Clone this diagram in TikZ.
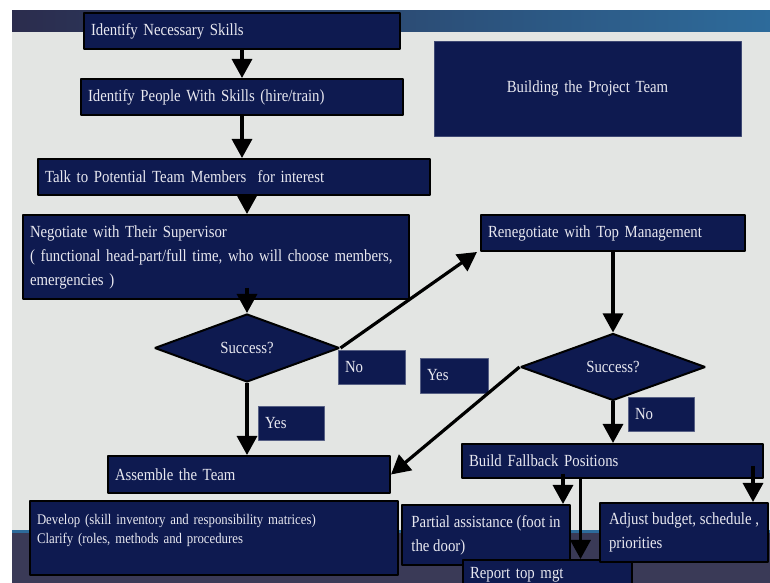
\documentclass[tikz,border=0pt]{standalone}
\usepackage{fontspec}
\setmainfont{Liberation Serif}[FakeStretch=0.87]
\usetikzlibrary{shapes.geometric,arrows.meta}
\definecolor{boxblue}{HTML}{0E1A50}
\definecolor{boxtext}{HTML}{E8E8F0}
\definecolor{slidegray}{HTML}{E3E5E3}
\definecolor{bandleft}{HTML}{2B2C4D}
\definecolor{bandright}{HTML}{2D6B9B}
\definecolor{bottomslate}{HTML}{3A3A57}
\begin{document}
\begin{tikzpicture}[>={Triangle[width=20bp,length=19bp]},line join=bevel,
  box/.style={draw=black,line width=2bp,fill=boxblue,text=boxtext,align=left,
    inner xsep=7bp,inner ysep=0bp,font=\fontsize{17bp}{24bp}\selectfont},
  tag/.style={box,draw=boxblue!70!white,line width=0.6bp},
  decision/.style={diamond,draw=black,line width=2bp,fill=boxblue,text=boxtext,
    inner sep=0bp,aspect=2.7,font=\fontsize{17bp}{24bp}\selectfont},
  flow/.style={black,line width=3.2bp,->}]
\useasboundingbox (0bp,0bp) rectangle (770bp,583bp);
%% slide background
\fill [slidegray] (12bp,53bp) rectangle (770bp,551bp);
\shade [left color=bandleft,right color=bandright] (12bp,551bp) rectangle (770bp,572bp);
\fill [bottomslate] (12bp,0bp) rectangle (770bp,53bp);
\fill [bandright] (12bp,50bp) rectangle (770bp,53bp);
%%
\node (node_title) at (587.5bp,494.5bp) [box,draw=boxblue!80!white,line width=0.6bp,align=center,text width=293bp,minimum height=95bp] {Building the Project Team};
  \node (node_skills) at (242bp,552bp) [box,text width=302bp,minimum height=36bp] {Identify Necessary Skills};
  \node (node_people) at (242bp,486bp) [box,text width=308bp,minimum height=36bp] {Identify People With Skills (hire/train)};
  \node (node_talk) at (234bp,406bp) [box,text width=378bp,minimum height=36bp] {Talk to Potential Team Members \ for interest};
  \node (node_negotiate) at (216bp,326bp) [box,text width=372bp,minimum height=84bp] {Negotiate with Their Supervisor\\( functional head-part/full time, who will choose members,\\emergencies )};
  \node (node_success) at (247bp,235bp) [decision,minimum width=185bp,minimum height=68bp] {Success?};
  \node (node_no) at (371.5bp,216bp) [tag,text width=53bp,minimum height=34bp] {No};
  \node (node_yes_right) at (454bp,207.5bp) [tag,text width=54bp,minimum height=35bp] {Yes};
  \node (node_yes_down) at (291bp,160bp) [tag,text width=52bp,minimum height=34bp] {Yes};
  \node (node_assemble) at (249bp,108.5bp) [box,text width=268bp,minimum height=37bp] {Assemble the Team};
  \node (node_develop) at (214bp,45bp) [box,text width=354bp,minimum height=74bp,font=\fontsize{14.7bp}{19bp}\selectfont] {Develop (skill inventory and responsibility matrices)\\Clarify (roles, methods and procedures\\~};
  \node (node_renegotiate) at (613bp,350bp) [box,text width=250bp,minimum height=36bp] {Renegotiate with Top Management};
  \node (node_success_top) at (613bp,216bp) [decision,minimum width=185bp,minimum height=67bp] {Success?};
  \node (node_no_fallback) at (661bp,169bp) [tag,text width=52bp,minimum height=34bp] {No};
  \node (node_fallback) at (612.5bp,122bp) [box,text width=287bp,minimum height=34bp] {Build Fallback Positions};
  \node (node_partial) at (486bp,48bp) [box,inner xsep=4bp,minimum width=168bp,minimum height=60bp] {Partial assistance (foot in\\the door)};
  \node (node_report) at (547.5bp,8bp) [box,text width=155bp,minimum height=30bp] {Report top mgt};
  \node (node_adjust) at (684bp,50.5bp) [box,inner xsep=4bp,minimum width=168bp,minimum height=59bp] {Adjust budget, schedule ,\\priorities};
%
\coordinate (tip_partial) at ([xshift=-8bp]node_partial.north east);
  \coordinate (tip_report) at ([xshift=33bp]node_report.north);
  \coordinate (tip_adjust) at ([xshift=-16bp]node_adjust.north east);
  \draw [flow] (node_skills.south -| node_people.north) -- (node_people.north);
  \draw [flow] (node_people.south) -- (node_talk.north -| node_people.south);
  \draw [flow] (node_talk.south -| node_success.north) -- (node_negotiate.north -| node_success.north);
  \draw [flow] (node_negotiate.south -| node_success.north) ++(0,12bp) -- (node_success.north);
  \draw [flow] (node_success.south) -- (node_assemble.north -| node_success.south);
  \draw [flow] (node_success.east) -- ([xshift=-3bp]node_renegotiate.south west);
  \draw [flow] (node_renegotiate.south) -- (node_success_top.north);
  \draw [flow] (node_success_top.south) -- (node_fallback.north -| node_success_top.south);
  \draw [flow] (node_success_top.west) -- (node_assemble.east);
  \draw [flow] (tip_partial |- node_fallback.south) ++(0,5bp) -- (tip_partial);
  \draw [flow] (tip_report |- node_fallback.south) -- (tip_report);
  \draw [flow] (tip_adjust |- node_fallback.south) ++(0,13bp) -- (tip_adjust);
%
\end{tikzpicture}
\end{document}
